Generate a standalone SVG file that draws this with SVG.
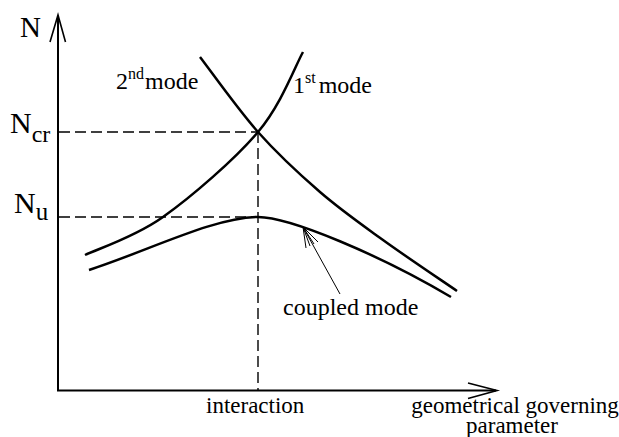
<svg xmlns="http://www.w3.org/2000/svg" width="619" height="437" viewBox="0 0 619 437">
<style>
.ax{fill:none;stroke:#000;stroke-width:2}
.ah{fill:none;stroke:#000;stroke-width:1.6}
.cv{fill:none;stroke:#000;stroke-width:2.5}
.ds{fill:none;stroke:#000;stroke-width:1.4;stroke-dasharray:11,5}
.ld{fill:none;stroke:#000;stroke-width:1}
</style>
<rect width="619" height="437" fill="#fff"/>
<g id="axes">
<line class="ax" x1="58" y1="16" x2="58" y2="391"/>
<line class="ax" x1="57" y1="390.5" x2="496" y2="390.5"/>
<polyline class="ah" points="50,42 58,15 65.5,42"/>
<polyline class="ah" points="468,383 497,390.5 468,398.5"/>
</g>
<g id="guides">
<line class="ds" x1="59" y1="132" x2="258" y2="132"/>
<line class="ds" x1="258" y1="132" x2="258" y2="390"/>
<line class="ds" x1="59" y1="217" x2="258" y2="217"/>
</g>
<g id="curves">
<path id="mode1" class="cv" d="M85,255 C98,248.7 134.2,237.5 163,217 C191.8,196.5 234.7,159.5 258,132 C281.3,104.5 295.5,65.3 303,52"/>
<path id="mode2" class="cv" d="M200,57 C209.7,69.5 238,109.5 258,132 C278,154.5 299.2,174 320,192 C340.8,210 360.2,223.5 383,240 C405.8,256.5 444.7,282.5 457,291"/>
<path id="coupled" class="cv" d="M89,270 C150,250 215,217 258,217 C290,217 380,255 451,297"/>
</g>
<g id="connectors">
<line class="ld" x1="340" y1="294" x2="303" y2="227"/>
<polyline class="ld" points="306,248 303,227 318,242"/>
<line class="ld" x1="303" y1="227" x2="310" y2="246"/>
<line class="ld" x1="303" y1="227" x2="314" y2="244"/>
</g>
<g id="labels" font-family="'Liberation Serif', 'DejaVu Serif', serif" fill="#000">
<text x="20" y="37" font-size="29">N</text>
<text x="10" y="133" font-size="30">N<tspan font-size="24" dy="8.5">cr</tspan></text>
<text x="14" y="212.5" font-size="30">N<tspan font-size="25" dy="7.5">u</tspan></text>
<text x="116" y="89" font-size="24">2<tspan font-size="16" dy="-10">nd</tspan><tspan dy="10" dx="1">mode</tspan></text>
<text x="293" y="92.5" font-size="24">1<tspan font-size="16" dy="-10">st</tspan><tspan dy="10" dx="3">mode</tspan></text>
<text x="283" y="315" font-size="24">coupled mode</text>
<text x="206" y="413" font-size="23">interaction</text>
<text x="515" y="413" font-size="23" text-anchor="middle">geometrical governing</text>
<text x="512" y="433" font-size="23" text-anchor="middle">parameter</text>
</g>
</svg>
